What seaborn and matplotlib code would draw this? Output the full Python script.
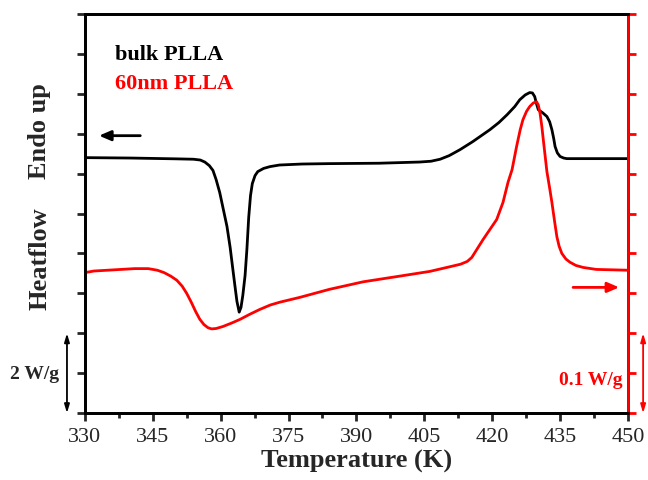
import matplotlib
matplotlib.use("Agg")
import matplotlib.pyplot as plt
import seaborn as sns
from matplotlib.ticker import MultipleLocator

### data ###
# bulk PLLA, left axis (W/g)
bulk_T = [330, 340, 350, 354, 355.5, 356.5, 357.5, 358.3, 359, 359.8, 360.6,
          361.4, 362.1, 362.7, 363.2, 363.6, 364.1, 364.5, 364.9, 365.4, 365.8,
          366.2, 366.6, 367.0, 367.6, 368.2, 369.5, 370.9, 373, 378, 384, 395,
          404, 406.5, 408.5, 410.5, 412.9, 415.7, 419.5, 421.5, 423.3, 425,
          426.1, 427.3, 428.3, 428.9, 429.4, 429.8, 430.2, 431.2, 432.1, 432.7,
          433.2, 433.6, 433.9, 434.4, 435, 435.8, 436.5, 450]
bulk_hf = [6.40, 6.39, 6.37, 6.36, 6.34, 6.29, 6.20, 6.08, 5.85, 5.525, 5.1,
           4.675, 4.15, 3.60, 3.15, 2.80, 2.53, 2.65, 2.95, 3.45, 4.1,
           4.9, 5.45, 5.75, 5.95, 6.05, 6.13, 6.175, 6.215, 6.24, 6.25, 6.26,
           6.29, 6.31, 6.36, 6.45, 6.6, 6.8, 7.1, 7.28, 7.475, 7.68,
           7.85, 7.97, 8.03, 8.02, 7.93, 7.75, 7.6, 7.52, 7.43, 7.3,
           7.1, 6.88, 6.68, 6.52, 6.43, 6.39, 6.375, 6.375]

# 60nm PLLA, right axis (W/g)
film_T = [330, 332, 335, 338, 341, 344, 346, 347.5, 349, 350.3, 351.5, 352.5,
          353.5, 354.5, 355.4, 356.3, 357.2, 358, 359, 360.5, 362.5, 364.3,
          366.5, 368.7, 371, 373.1, 377.5, 384, 391.5, 398.9, 406.2, 410, 413,
          414.5, 415.5, 416.5, 418, 419.5, 421, 422.4, 423.5, 424.4, 425.4,
          426.2, 426.8, 427.6, 428.3, 429.1, 429.8, 430.2, 430.6, 431.0, 431.3,
          432.1, 432.7, 433.2, 433.8, 434.3, 434.8, 435.4, 436.3, 437.2, 438.5,
          440.1, 443, 450]
film_hf = [0.176, 0.178, 0.179, 0.180, 0.181, 0.181, 0.179, 0.176, 0.1715, 0.1665,
           0.159, 0.150, 0.139, 0.127, 0.1175, 0.111, 0.107, 0.1055, 0.106, 0.1085,
           0.113, 0.1175, 0.124, 0.130, 0.1355, 0.139, 0.145, 0.155, 0.1645, 0.171,
           0.1775, 0.1825, 0.1865, 0.190, 0.195, 0.204, 0.2175, 0.230, 0.2425,
           0.264, 0.289, 0.305, 0.334, 0.355, 0.3675, 0.378, 0.384, 0.3885, 0.390,
           0.386, 0.375, 0.358, 0.3425, 0.3025, 0.282, 0.264, 0.240, 0.221, 0.209,
           0.200, 0.193, 0.189, 0.185, 0.1825, 0.180, 0.179]

xticks = [330, 345, 360, 375, 390, 405, 420, 435, 450]

sns.set_style("ticks")
plt.rcParams['font.family'] = ['Liberation Serif', 'DejaVu Serif']

fig = plt.figure(figsize=(6.48, 4.81), dpi=100)
ax = fig.add_axes([0.131, 0.139, 0.838, 0.830])
ax2 = ax.twinx()

sns.lineplot(x=bulk_T, y=bulk_hf, ax=ax, color="k", linewidth=2, sort=False)
sns.lineplot(x=film_T, y=film_hf, ax=ax2, color="red", linewidth=2, sort=False)

### axes format ###
ax.set_xlim(330, 450)
ax.set_ylim(0, 10)
ax2.set_ylim(0, 0.5)
ax.set_xticks(xticks)
ax.set_xticklabels([str(t) for t in xticks], fontsize=16)
ax.xaxis.set_minor_locator(MultipleLocator(7.5))
ax.yaxis.set_major_locator(MultipleLocator(1))
ax2.yaxis.set_major_locator(MultipleLocator(0.05))
ax.set_yticklabels([])
ax2.set_yticklabels([])

for a in (ax, ax2):
    for s in a.spines.values():
        s.set_linewidth(2)
        s.set_color("k")
ax2.spines["right"].set_color("red")
ax.tick_params(axis="x", which="major", direction="out", length=6, width=2, pad=4)
ax.tick_params(axis="x", which="minor", direction="out", length=3.5, width=2)
ax.tick_params(axis="y", direction="out", length=6, width=2, left=True)
ax2.tick_params(axis="y", direction="out", length=6, width=2, colors="red")

ax.set_xlabel("Temperature (K)", fontsize=19, fontweight="bold", labelpad=2)
ax.set_ylabel("")
ax2.set_ylabel("")

# y label pieces
ax.text(-0.083, 0.39, "Heatflow", transform=ax.transAxes, rotation=90,
        ha="center", va="center", fontsize=19, fontweight="bold")
ax.text(-0.083, 0.71, "Endo up", transform=ax.transAxes, rotation=90,
        ha="center", va="center", fontsize=19, fontweight="bold")

# legend-like labels
ax.text(0.055, 0.887, "bulk PLLA", transform=ax.transAxes, fontsize=16,
        fontweight="bold", color="k", va="baseline")
ax.text(0.055, 0.815, "60nm PLLA", transform=ax.transAxes, fontsize=16,
        fontweight="bold", color="red", va="baseline")

# axis pointers
ax.annotate("", xy=(0.026, 6.95), xytext=(0.102, 6.95),
            xycoords=("axes fraction", "data"),
            arrowprops=dict(arrowstyle="-|>,head_length=0.7,head_width=0.3",
                            color="k", lw=2, shrinkA=0, shrinkB=0))
ax.annotate("", xy=(0.984, 3.15), xytext=(0.899, 3.15),
            xycoords=("axes fraction", "data"),
            arrowprops=dict(arrowstyle="-|>,head_length=0.7,head_width=0.3",
                            color="red", lw=2, shrinkA=0, shrinkB=0))

# scale bars
ax.annotate("", xy=(-0.033, 0), xytext=(-0.033, 2),
            xycoords=("axes fraction", "data"), annotation_clip=False,
            arrowprops=dict(arrowstyle="<|-|>,head_length=0.5,head_width=0.15",
                            color="k", lw=1.3, shrinkA=0, shrinkB=0))
ax.text(-0.092, 1.0, "2 W/g", transform=ax.get_yaxis_transform(), ha="center",
        va="center", fontsize=14, fontweight="bold")
ax2.annotate("", xy=(1.028, 0), xytext=(1.028, 0.1),
             xycoords=("axes fraction", "data"), annotation_clip=False,
             arrowprops=dict(arrowstyle="<|-|>,head_length=0.5,head_width=0.15",
                             color="red", lw=1.3, shrinkA=0, shrinkB=0))
ax2.text(0.991, 0.0425, "0.1 W/g", transform=ax2.get_yaxis_transform(), ha="right",
         va="center", fontsize=14, fontweight="bold", color="red")

fig.savefig("out.png", dpi=100)
